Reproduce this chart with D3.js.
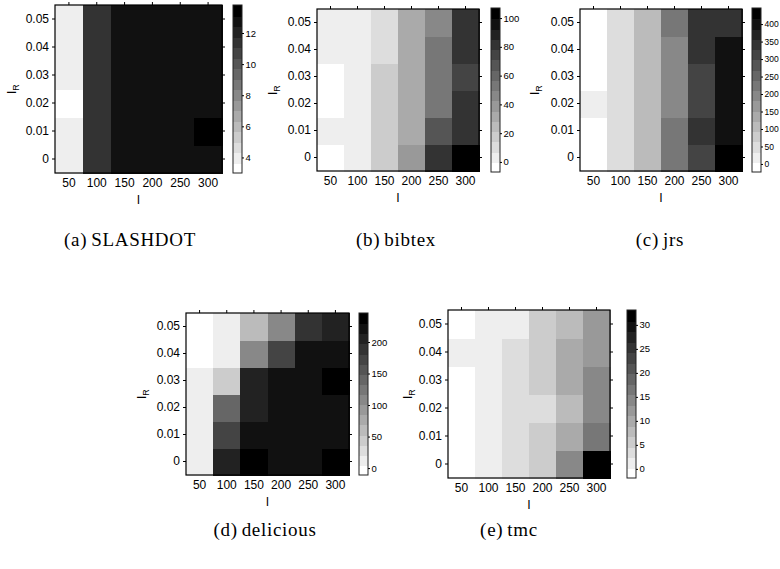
<!DOCTYPE html>
<html><head><meta charset="utf-8">
<script src="https://cdn.jsdelivr.net/npm/d3@7"></script>
<style>
body{margin:0;background:#fff;}
svg{display:block;}
.tick text{font-family:"Liberation Sans",Arial,sans-serif;}
</style></head>
<body>
<svg id="chart" width="780" height="569"></svg>
<script>
const lValues = [50, 100, 150, 200, 250, 300];
const lRValues = [0, 0.01, 0.02, 0.03, 0.04, 0.05];
const lRTickLabels = ["0", "0.01", "0.02", "0.03", "0.04", "0.05"];

// rows: lR = 0 ... 0.05, columns: l = 50 ... 300
const slashdot = [
  [4.0, 11.4, 12.8, 12.8, 12.8, 12.8],
  [4.0, 11.4, 12.8, 12.8, 12.8, 13.5],
  [3.3, 11.4, 12.8, 12.8, 12.8, 12.8],
  [4.0, 11.4, 12.8, 12.8, 12.8, 12.8],
  [4.0, 11.4, 12.8, 12.8, 12.8, 12.8],
  [4.0, 11.4, 12.8, 12.8, 12.8, 12.8]
];
const bibtex = [
  [-3, 4, 18, 39, 82, 103],
  [4, 4, 18, 32, 68, 82],
  [-3, 4, 18, 32, 54, 82],
  [-3, 4, 18, 32, 54, 75],
  [4, 4, 11, 32, 54, 82],
  [4, 4, 11, 32, 46, 82]
];
const jrs = [
  [-8, 50, 109, 226, 314, 431],
  [-8, 50, 109, 226, 343, 402],
  [21, 50, 109, 197, 314, 402],
  [-8, 50, 109, 197, 314, 402],
  [-8, 50, 109, 197, 343, 402],
  [-8, 50, 109, 226, 343, 343]
];
const delicious = [
  [13, 206, 238, 222, 222, 238],
  [13, 174, 222, 222, 222, 222],
  [13, 142, 206, 222, 222, 222],
  [13, 45, 206, 222, 222, 238],
  [-3, 13, 109, 174, 222, 222],
  [-3, 13, 61, 109, 190, 206]
];
const tmc = [
  [-0.8, 1.4, 3.6, 5.8, 14.5, 32],
  [-0.8, 1.4, 3.6, 5.8, 10.1, 16.7],
  [-0.8, 1.4, 3.6, 3.6, 7.9, 14.5],
  [-0.8, 1.4, 3.6, 5.8, 10.1, 14.5],
  [1.4, 1.4, 3.6, 5.8, 10.1, 12.3],
  [-0.8, 1.4, 1.4, 5.8, 7.9, 12.3]
];

const captionTags = ["(a)", "(b)", "(c)", "(d)", "(e)"];
const captionNames = ["SLASHDOT", "bibtex", "jrs", "delicious", "tmc"];
const colorDomains = [[3, 13.8], [-7, 107], [-23, 446], [-11, 246], [-1.9, 33.1]];
const colorTicks = [
  [4, 6, 8, 10, 12],
  [0, 20, 40, 60, 80, 100],
  [0, 50, 100, 150, 200, 250, 300, 350, 400],
  [0, 50, 100, 150, 200],
  [0, 5, 10, 15, 20, 25, 30]
];
const datasets = [slashdot, bibtex, jrs, delicious, tmc];

// layout (pixels)
const layouts = [
  {px: 55, py: 5, pw: 167, ph: 168, cx: 233, cy: 5, cw: 9, ch: 168, yl: 43, capX: 130, capY: 246, cfs: 9.5},
  {px: 317, py: 9, pw: 162, ph: 162, cx: 491, cy: 8, cw: 9, ch: 164, yl: 44, capX: 396, capY: 246, cfs: 9.5},
  {px: 580, py: 9, pw: 162, ph: 162, cx: 752, cy: 8, cw: 9, ch: 164, yl: 45, capX: 660, capY: 246, cfs: 8.5},
  {px: 186, py: 313, pw: 163, ph: 162, cx: 359, cy: 313, cw: 9, ch: 162, yl: 44, capX: 265, capY: 536, cfs: 9.5},
  {px: 448, py: 310, pw: 162, ph: 168, cx: 627, cy: 310, cw: 9, ch: 168, yl: 40, capX: 509, capY: 536, cfs: 9.5}
];

const NLEV = 16;
const svg = d3.select("#chart");

datasets.forEach((data, i) => {
  const L = layouts[i];
  const dom = colorDomains[i];
  const g = svg.append("g");

  const x = d3.scaleBand().domain(lValues).range([L.px, L.px + L.pw]).padding(0);
  const y = d3.scaleBand().domain(lRValues).range([L.py + L.ph, L.py]).padding(0);
  const levels = d3.range(NLEV).map(k => {
    const v = Math.round(255 * (1 - k / (NLEV - 1)));
    return d3.rgb(v, v, v).toString();
  });
  const color = d3.scaleQuantize().domain(dom).range(levels);

  const cells = [];
  data.forEach((row, r) => row.forEach((v, c) => cells.push({l: lValues[c], lr: lRValues[r], v})));

  g.selectAll("rect.cell").data(cells).join("rect")
    .attr("class", "cell")
    .attr("shape-rendering", "crispEdges")
    .attr("x", d => x(d.l)).attr("y", d => y(d.lr))
    .attr("width", x.bandwidth() + 1).attr("height", y.bandwidth() + 1)
    .attr("fill", d => color(d.v));

  // frame
  g.append("rect").attr("x", L.px).attr("y", L.py).attr("width", L.pw).attr("height", L.ph)
    .attr("fill", "none").attr("stroke", "#000").attr("stroke-width", 1.2);

  // axes
  const fs = "12px";
  const xb = g.append("g").attr("transform", `translate(0,${L.py + L.ph})`)
    .call(d3.axisBottom(x).tickSize(0).tickPadding(5));
  xb.select(".domain").remove();
  xb.selectAll("text").attr("font-size", fs).attr("fill", "#000");

  const xt = g.append("g").attr("transform", `translate(0,${L.py})`)
    .call(d3.axisTop(x).tickSize(3).tickFormat(""));
  xt.select(".domain").remove();
  xt.selectAll("line").attr("stroke", "#000");

  const yl = g.append("g").attr("transform", `translate(${L.px},0)`)
    .call(d3.axisLeft(y).tickSize(3).tickPadding(3).tickFormat((d, k) => lRTickLabels[k]));
  yl.select(".domain").remove();
  yl.selectAll("text").attr("font-size", fs).attr("fill", "#000");
  yl.selectAll("line").attr("stroke", "#000");

  const yr = g.append("g").attr("transform", `translate(${L.px + L.pw},0)`)
    .call(d3.axisRight(y).tickSize(3).tickFormat(""));
  yr.select(".domain").remove();
  yr.selectAll("line").attr("stroke", "#000");

  // axis labels
  g.append("text").attr("x", L.px + L.pw / 2).attr("y", L.py + L.ph + 31)
    .attr("text-anchor", "middle").attr("font-family", "Liberation Sans, Arial, sans-serif")
    .attr("font-size", "13px").attr("fill", "#000").text("l");
  const ylab = g.append("text")
    .attr("transform", `translate(${L.px - L.yl + 4},${L.py + L.ph / 2}) rotate(-90)`)
    .attr("text-anchor", "middle").attr("font-family", "Liberation Sans, Arial, sans-serif")
    .attr("font-size", "13px").attr("fill", "#000");
  ylab.append("tspan").text("l");
  ylab.append("tspan").attr("font-size", "9px").attr("dy", "3").text("R");

  // colorbar
  const cs = d3.scaleLinear().domain(dom).range([L.cy + L.ch, L.cy]);
  const step = (dom[1] - dom[0]) / NLEV;
  const bands = d3.range(NLEV).map(k => ({lo: dom[0] + k * step, hi: dom[0] + (k + 1) * step, c: levels[k]}));
  g.selectAll("rect.cb").data(bands).join("rect").attr("class", "cb")
    .attr("shape-rendering", "crispEdges")
    .attr("x", L.cx).attr("width", L.cw)
    .attr("y", d => cs(d.hi)).attr("height", d => cs(d.lo) - cs(d.hi) + 1)
    .attr("fill", d => d.c);
  g.append("rect").attr("x", L.cx).attr("y", L.cy).attr("width", L.cw).attr("height", L.ch)
    .attr("fill", "none").attr("stroke", "#222").attr("stroke-width", 1);
  const ca = g.append("g").attr("transform", `translate(${L.cx + L.cw},0)`)
    .call(d3.axisRight(cs).tickValues(colorTicks[i]).tickSize(2).tickPadding(1.5));
  ca.select(".domain").remove();
  ca.selectAll("text").attr("font-size", L.cfs + "px").attr("fill", "#000");
  ca.selectAll("line").attr("stroke", "#000");

  // caption
  const cap = svg.append("text").attr("x", L.capX).attr("y", L.capY)
    .attr("text-anchor", "middle").attr("font-family", "Liberation Serif, 'DejaVu Serif', serif")
    .attr("font-size", "19px").attr("letter-spacing", "0.7px").attr("fill", "#000");
  cap.append("tspan").text(captionTags[i]);
  cap.append("tspan").attr("dx", "4").text(captionNames[i]);
});
</script>
</body></html>
